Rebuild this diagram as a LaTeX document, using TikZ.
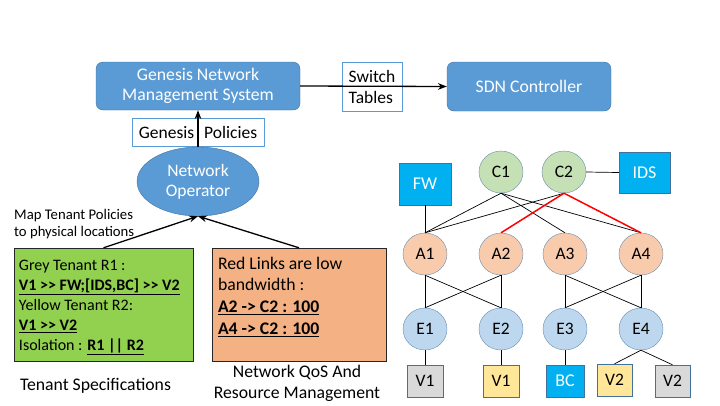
\documentclass[tikz,border=0pt]{standalone}
\usepackage{fontspec}
\setmainfont{Carlito}
\usetikzlibrary{shapes.geometric,arrows.meta,positioning}
\definecolor{sysblue}{HTML}{5B9BD5}
\definecolor{sysedge}{HTML}{41719C}
\definecolor{tenantgreen}{HTML}{92D050}
\definecolor{qosorange}{HTML}{F4B183}
\definecolor{corefill}{HTML}{C5E0B4}
\definecolor{aggfill}{HTML}{F8CBAD}
\definecolor{edgefill}{HTML}{BDD7EE}
\definecolor{mbfill}{HTML}{00B0F0}
\definecolor{vmgrey}{HTML}{D9D9D9}
\definecolor{vmyellow}{HTML}{FFE699}
\newcommand{\fs}[2]{\fontsize{#1}{#2}\selectfont}
\newcommand{\chainto}{>\kern0pt>}
\begin{document}
\begin{tikzpicture}[x=1pt,y=-1pt,>=Stealth,
    sysbox/.style={rectangle,rounded corners=7pt,fill=sysblue,draw=sysedge,
      text=white,align=center,font=\fs{17.7}{20}},
    tagbox/.style={rectangle,draw=sysblue,font=\fs{17.5}{21}},
    specbox/.style={rectangle,draw=black!85,minimum height=113pt},
    spectext/.style={anchor=north west,align=left,inner sep=0pt,font=\fs{16}{20}},
    sw/.style={ellipse,draw=sysedge!80,minimum width=44pt,minimum height=42pt,
      inner sep=0pt,font=\fs{17.5}{18}},
    mbox/.style={rectangle,draw=sysedge,fill=mbfill,text=white,font=\fs{18}{18}},
    vm/.style={rectangle,draw=sysedge,minimum width=36pt,minimum height=32pt,
      inner sep=0pt,font=\fs{17.5}{18}},
    link/.style={line width=0.7pt},
    badlink/.style={line width=1.5pt,red},
    flow/.style={->,line width=1.3pt}]
  \useasboundingbox (0,0) rectangle (720,405);
  % management plane
  \node[sysbox,minimum width=204pt,minimum height=48pt] (gnms) at (198,86)
    {Genesis Network\\Management System};
  \node[sysbox,minimum width=164pt,minimum height=49pt] (sdn) at (529,86.5) {SDN Controller};
  \node[tagbox,minimum width=60pt,minimum height=49pt,align=left,inner sep=3pt]
    (tables) at (372,86.5) {Switch\\Tables};
  \node[tagbox,minimum width=132pt,minimum height=28pt,inner sep=1pt]
    (policies) at (198,132) {Genesis\hspace{6pt} Policies};
  \node[ellipse,fill=sysblue,draw=sysedge,text=white,minimum width=122pt,
    minimum height=69pt,inner sep=0pt,align=center,font=\fs{17.5}{20}] (op) at (198,181.5)
    {Network\\Operator};
  \draw[flow] (gnms.east) -- (sdn.west);
  \draw[flow] (op.north) -- (gnms.south);
  % specifications
  \node[align=left,anchor=west,inner sep=0pt,font=\fs{14.7}{17}] (map) at (14,224)
    {Map Tenant Policies\\to physical locations};
  \node[specbox,fill=tenantgreen,minimum width=179pt] (tenant) at (103.5,304.5) {};
  \node[spectext] (tenanttext) at ([shift={(5,12)}]tenant.north west)
    {Grey Tenant R1 :\\
     \textbf{\underline{V1 \chainto{} FW;[IDS,BC] \chainto{} V2}}\\
     Yellow Tenant R2:\\
     \textbf{\underline{V1 \chainto{} V2}}\\
     Isolation : \textbf{\underline{R1 || R2}}};
  \node[specbox,fill=qosorange,minimum width=174pt] (qos) at (299,304.5) {};
  \node[spectext,font=\fs{17.7}{21.7}] (qostext) at ([shift={(6,9)}]qos.north west)
    {Red Links are low\\
     bandwidth :\\
     \textbf{\underline{A2 -> C2 : 100}}\\
     \textbf{\underline{A4 -> C2 : 100}}};
  \draw[flow] (tenant.north) -- (op.south);
  \draw[flow] (qos.north) -- (op.south);
  \node[font=\fs{17.7}{20}] (tenantcap) at (95.5,386) {Tenant Specifications};
  \node[align=center,font=\fs{17.7}{21}] (qoscap) at (297,383.5)
    {Network QoS And\\Resource Management};
  % fat tree
  \node[sw,fill=corefill] (C1) at (501,172) {C1};
  \node[sw,fill=corefill] (C2) at (564,172) {C2};
  \node[mbox,minimum width=52pt,minimum height=42pt] (FW) at (425,184) {FW};
  \node[mbox,minimum width=51pt,minimum height=41pt] (IDS) at (644.5,172.5) {IDS};
  \foreach \n/\x in {1/425,2/501,3/565,4/641}{
    \node[sw,fill=aggfill] (A\n) at (\x,254) {A\n};
    \node[sw,fill=edgefill] (E\n) at (\x,329) {E\n};
  }
  \node[vm,fill=vmgrey] (V1g) at (425,381) {V1};
  \node[vm,fill=vmyellow] (V1y) at (501,381) {V1};
  \node[mbox,minimum width=38pt,minimum height=32pt,inner sep=0pt] (BC) at (565,381) {BC};
  \node[vm,fill=vmyellow,minimum width=35pt] (V2y) at (614.5,380) {V2};
  \node[vm,fill=vmgrey,minimum width=35pt] (V2g) at (672.5,381) {V2};
  \draw[link] (C2.east) -- (IDS.west);
  \draw[link] (FW.south) -- (A1.north);
  \foreach \a/\b in {C1/A1,C1/A3,C1/A4,C2/A1}
    \draw[link] (\a.south) -- (\b.north);
  \draw[badlink] (C2.south) -- (A2.north);
  \draw[badlink] (C2.south) -- (A4.north);
  \foreach \a/\b in {A1/E1,A1/E2,A2/E1,A2/E2,A3/E3,A3/E4,A4/E3,A4/E4}
    \draw[link] (\a.south) -- (\b.north);
  \foreach \a/\b in {E1/V1g,E2/V1y,E3/BC,E4/V2y,E4/V2g}
    \draw[link] (\a.south) -- (\b.north);
\end{tikzpicture}
\end{document}
